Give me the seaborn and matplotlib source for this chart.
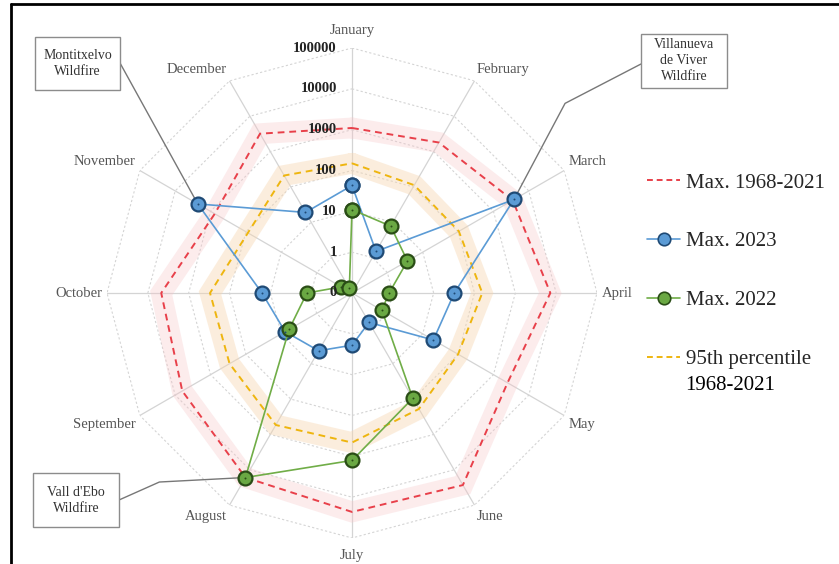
import numpy as np
import pandas as pd
import matplotlib
matplotlib.use("Agg")
import matplotlib.pyplot as plt
import seaborn as sns
from matplotlib.lines import Line2D
from matplotlib.patches import Rectangle

# ---------------- data ----------------
months = ["January", "February", "March", "April", "May", "June",
          "July", "August", "September", "October", "November", "December"]
max_1968_2021 = [1100, 1800, 3500, 7200, 2500, 27000, 23000, 16500, 6300, 4700, 760, 3200]
p95_1968_2021 = [150, 112, 105, 155, 100, 190, 460, 540, 290, 300, 88, 210]
max_2023 = [43, 1.5, 3800, 32, 20, 0.68, 1.9, 4.3, 7.8, 16, 2300, 19]
max_2022 = [11, 7.8, 3.7, 0.81, 0.7, 95, 1260, 16500, 6.0, 1.27, 0.2, 0.135]
ring_values = [0.1, 1, 10, 100, 1000, 10000, 100000]
ring_labels = ["0", "1", "10", "100", "1000", "10000", "100000"]
legend_labels = ["Max. 1968-2021", "Max. 2023", "Max. 2022", "95th percentile"]
legend_label_2nd_line = "1968-2021"
annotations = ["Montitxelvo\nWildfire", "Villanueva\nde Viver\nWildfire", "Vall d'Ebo\nWildfire"]

# ---------------- style ----------------
sns.set_theme(style="white")
plt.rcParams["font.family"] = ["Liberation Serif", "DejaVu Serif"]

W, H = 839, 564
fig = plt.figure(figsize=(W / 100, H / 100), dpi=100)
cx, cy, R = 352, 293, 245  # pixels, top-origin
ax = fig.add_axes([(cx - R) / W, (H - cy - R) / H, 2 * R / W, 2 * R / H],
                  projection="polar")
ax.set_theta_zero_location("N")
ax.set_theta_direction(-1)
ax.set_rscale("log")
ax.set_rlim(0.1, 100000)
ax.grid(False)
ax.spines["polar"].set_visible(False)
ax.set_xticks([])
ax.set_yticks([])
ax.patch.set_alpha(0)

n = len(months)
theta = np.arange(n) * 2 * np.pi / n
theta_c = np.append(theta, 2 * np.pi)

def closed(vals):
    return np.append(np.asarray(vals, float), vals[0])

grid_col = "#d4d4d4"
# spokes
for t in theta:
    ax.plot([t, t], [0.1, 100000], color=grid_col, lw=0.9, zorder=1)
# polygon rings
for v in ring_values[1:]:
    ax.plot(theta_c, [v] * (n + 1), color=grid_col, lw=0.8,
            linestyle=(0, (2, 2)), zorder=1)

df_red = pd.DataFrame({"theta": theta_c, "value": closed(max_1968_2021)})
df_yel = pd.DataFrame({"theta": theta_c, "value": closed(p95_1968_2021)})
df_blue = pd.DataFrame({"theta": theta_c, "value": closed(max_2023)})
df_green = pd.DataFrame({"theta": theta_c, "value": closed(max_2022)})

# glow bands
sns.lineplot(data=df_red, x="theta", y="value", sort=False, estimator=None,
             ax=ax, color="#f7c4c6", alpha=0.32, lw=15, legend=False, zorder=2,
             solid_joinstyle="miter")
sns.lineplot(data=df_yel, x="theta", y="value", sort=False, estimator=None,
             ax=ax, color="#f7d6b0", alpha=0.42, lw=15, legend=False, zorder=2,
             solid_joinstyle="miter")
# dashed lines
sns.lineplot(data=df_red, x="theta", y="value", sort=False, estimator=None,
             ax=ax, color="#e8404a", lw=1.4, legend=False, zorder=3)
ax.lines[-1].set_linestyle((0, (3.5, 2.5)))
sns.lineplot(data=df_yel, x="theta", y="value", sort=False, estimator=None,
             ax=ax, color="#eeb50f", lw=1.4, legend=False, zorder=3)
ax.lines[-1].set_linestyle((0, (3.5, 2.5)))

# series with markers
blue_fill, blue_edge = "#5b9bd5", "#1f4a75"
green_fill, green_edge = "#6aa843", "#2a4d16"
sns.lineplot(data=df_blue, x="theta", y="value", sort=False, estimator=None,
             ax=ax, color="#5b9bd5", lw=1.2, legend=False, zorder=4,
             marker="o", markersize=10, markerfacecolor=blue_fill,
             markeredgecolor=blue_edge, markeredgewidth=1.6)
sns.lineplot(data=df_green, x="theta", y="value", sort=False, estimator=None,
             ax=ax, color="#70ad47", lw=1.2, legend=False, zorder=5,
             marker="o", markersize=10, markerfacecolor=green_fill,
             markeredgecolor=green_edge, markeredgewidth=1.6)
sns.scatterplot(x=theta, y=max_2023, ax=ax, s=2, color=blue_edge,
                linewidth=0, zorder=6, legend=False)
sns.scatterplot(x=theta, y=max_2022, ax=ax, s=2, color=green_edge,
                linewidth=0, zorder=6, legend=False)

# radial labels
for v, lab in zip(ring_values, ring_labels):
    ax.annotate(lab, xy=(0, v), xytext=(-11, 0), textcoords="offset points",
                ha="right", va="center", fontsize=10.5, fontweight="bold",
                color="#222222", zorder=7, annotation_clip=False)

# month labels
r_lab = 10 ** ((250 / (R / 6.0)) - 1)
for t, m in zip(theta, months):
    s, c = np.sin(t), np.cos(t)
    ha = "center" if abs(s) < 0.1 else ("left" if s > 0 else "right")
    va = "center" if abs(c) < 0.1 else ("bottom" if c > 0 else "top")
    rr = r_lab
    if abs(s) < 0.1:
        rr = 10 ** ((256 / (R / 6.0)) - 1)
    ax.text(t, rr, m, ha=ha, va=va, fontsize=10.5, color="#555555",
            clip_on=False)

# annotation boxes (pixel geometry, top-origin)
def add_box(x0, y0, x1, y1, txt):
    fig.add_artist(Rectangle((x0 / W, 1 - y1 / H), (x1 - x0) / W, (y1 - y0) / H,
                             transform=fig.transFigure, facecolor="white",
                             edgecolor="#8c8c8c", lw=1.0))
    fig.text((x0 + x1) / 2 / W, 1 - (y0 + y1) / 2 / H, txt, ha="center",
             va="center", fontsize=10, color="#333333", linespacing=1.3)

add_box(35, 37, 120, 90, annotations[0])
add_box(641, 34, 727, 88, annotations[1])
add_box(33, 473, 119, 527, annotations[2])

lc = "#777777"
ax.annotate("", xy=(theta[10], max_2023[10]), xytext=(120, H - 63),
            textcoords="figure pixels",
            arrowprops=dict(arrowstyle="-", color=lc, lw=1.0, shrinkA=0, shrinkB=5))
ax.annotate("", xy=(theta[2], max_2023[2]), xytext=(641, H - 64),
            textcoords="figure pixels",
            arrowprops=dict(arrowstyle="-", color=lc, lw=1.0, shrinkA=0, shrinkB=5,
                            connectionstyle="angle,angleA=27.4,angleB=62,rad=0"))
ax.annotate("", xy=(theta[7], max_2022[7]), xytext=(119, H - 500),
            textcoords="figure pixels",
            arrowprops=dict(arrowstyle="-", color=lc, lw=1.0, shrinkA=0, shrinkB=5,
                            connectionstyle="angle,angleA=24,angleB=3,rad=0"))

# legend
handles = [
    Line2D([], [], color="#e8404a", lw=1.4, linestyle=(0, (3, 2))),
    Line2D([], [], color="#5b9bd5", lw=1.2, marker="o", markersize=9,
           markerfacecolor=blue_fill, markeredgecolor=blue_edge, markeredgewidth=1.2),
    Line2D([], [], color="#70ad47", lw=1.2, marker="o", markersize=9,
           markerfacecolor=green_fill, markeredgecolor=green_edge, markeredgewidth=1.2),
    Line2D([], [], color="#eeb50f", lw=1.4, linestyle=(0, (3, 2))),
]
leg = fig.legend(handles, legend_labels, loc="upper left",
                 bbox_to_anchor=(647 / W, 1 - 173 / H), frameon=False,
                 fontsize=15, handlelength=1.6, handletextpad=0.25,
                 labelspacing=1.88, borderpad=0, borderaxespad=0)
fig.text(685 / W, 1 - 386 / H, legend_label_2nd_line, fontsize=15,
         ha="left", va="center", color="black")

# partial black frame (top and left)
fig.add_artist(Line2D([11 / W, 1], [1 - 4 / H, 1 - 4 / H], transform=fig.transFigure,
                      color="black", lw=2))
fig.add_artist(Line2D([11 / W, 11 / W], [0, 1 - 4 / H], transform=fig.transFigure,
                      color="black", lw=2))

fig.savefig("out.png", dpi=100, facecolor="white")
